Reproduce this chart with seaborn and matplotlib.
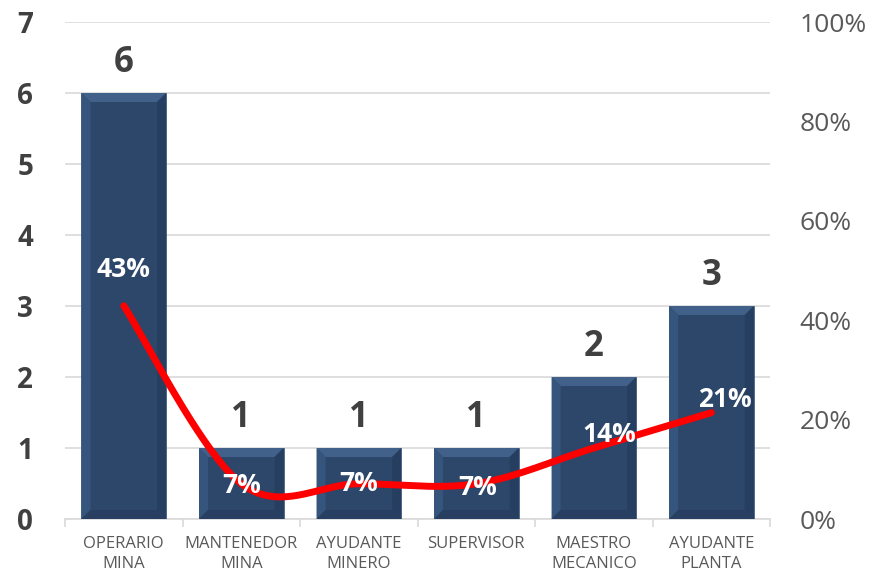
import numpy as np
import pandas as pd
import matplotlib
matplotlib.use('Agg')
import matplotlib.pyplot as plt
from matplotlib.patches import Polygon
import seaborn as sns

# data
categories = ['OPERARIO\nMINA', 'MANTENEDOR\nMINA', 'AYUDANTE\nMINERO',
              'SUPERVISOR', 'MAESTRO\nMECANICO', 'AYUDANTE\nPLANTA']
counts = [6, 1, 1, 1, 2, 3]
shares = [42.9, 7.1, 7.1, 7.1, 14.3, 21.4]
share_labels = ['43%', '7%', '7%', '7%', '14%', '21%']
left_ticks = [0, 1, 2, 3, 4, 5, 6, 7]
right_ticks = [0, 20, 40, 60, 80, 100]

# label nudges (pixels) for the percentage labels
pct_offsets = [(0, 36), (0, -2), (0, 0), (1, -4), (15, 13), (13, 13)]

sns.set_theme(style='white')
plt.rcParams['font.family'] = ['Open Sans', 'DejaVu Sans']

fig = plt.figure(figsize=(8.74, 5.73), dpi=100)
ax = fig.add_axes([0.0744, 0.0942, 0.8068, 0.8674])

df = pd.DataFrame({'cat': categories, 'n': counts})
sns.barplot(data=df, x='cat', y='n', ax=ax, color='#2C4769', width=0.72,
            edgecolor='#3A5880', linewidth=0.5, saturation=1, zorder=3)

ax.set_ylim(0, 7)
ax.set_xlim(-0.5, len(categories) - 0.5)
ax.set_yticks(left_ticks)
ax.grid(axis='y', color='#D9D9D9', linewidth=1.2, zorder=0)
ax.set_axisbelow(True)
for s in ['top', 'right', 'left']:
    ax.spines[s].set_visible(False)
ax.spines['bottom'].set_color('#D9D9D9')
ax.spines['bottom'].set_linewidth(1.2)
ax.set_xlabel('')
ax.set_ylabel('')
ax.tick_params(axis='y', length=0, pad=23, labelsize=20, labelcolor='#404040')
for t in ax.get_yticklabels():
    t.set_fontweight('bold')
ax.tick_params(axis='x', which='major', length=0, pad=12, labelsize=12,
               labelcolor='#595959')
for t in ax.get_xticklabels():
    t.set_linespacing(1.35)
ax.set_xticks(np.arange(-0.5, len(categories)), minor=True)
ax.tick_params(axis='x', which='minor', length=6, color='#D9D9D9', width=1.2,
               bottom=True)

# soft bevel on the bars
fig.canvas.draw()
bev = 9  # pixels
for p in ax.patches:
    x0, y0 = ax.transData.transform((p.get_x(), 0))
    x1, y1 = ax.transData.transform((p.get_x() + p.get_width(), p.get_height()))
    ix0, ix1, iy0, iy1 = x0 + bev, x1 - bev, y0 + bev, y1 - bev
    faces = [
        ([(x0, y1), (x1, y1), (ix1, iy1), (ix0, iy1)], '#41618A'),
        ([(x0, y0), (x0, y1), (ix0, iy1), (ix0, iy0)], '#36557C'),
        ([(x1, y0), (x1, y1), (ix1, iy1), (ix1, iy0)], '#263F60'),
        ([(x0, y0), (x1, y0), (ix1, iy0), (ix0, iy0)], '#283F61'),
    ]
    for pts, col in faces:
        ax.add_patch(Polygon(pts, closed=True, transform=None, facecolor=col,
                             edgecolor='none', zorder=3.5))

for i, c in enumerate(counts):
    ax.annotate(str(c), (i, c), xytext=(0, 21), textcoords='offset pixels',
                ha='center', va='baseline', fontsize=25, fontweight='bold',
                color='#404040')

ax2 = ax.twinx()
ax2.set_position(ax.get_position())
ax2.set_ylim(0, 100)
ax2.set_yticks(right_ticks)
ax2.set_yticklabels([f'{v}%' for v in right_ticks])
ax2.tick_params(axis='y', length=0, pad=21, labelsize=19, labelcolor='#595959')
for s in ax2.spines.values():
    s.set_visible(False)
ax2.grid(False)

# smooth line through the points (Excel-style bezier smoothing)
xs = np.arange(len(shares), dtype=float)
ys = np.array(shares, dtype=float)
px = np.concatenate([[xs[0]], xs, [xs[-1]]])
py = np.concatenate([[ys[0]], ys, [ys[-1]]])
cx, cy = [], []
t = np.linspace(0, 1, 40)
for k in range(1, len(px) - 2):
    p0 = np.array([px[k], py[k]])
    p3 = np.array([px[k + 1], py[k + 1]])
    p1 = p0 + (np.array([px[k + 1], py[k + 1]]) - np.array([px[k - 1], py[k - 1]])) / 6
    p2 = p3 - (np.array([px[k + 2], py[k + 2]]) - np.array([px[k], py[k]])) / 6
    b = (((1 - t) ** 3)[:, None] * p0 + (3 * (1 - t) ** 2 * t)[:, None] * p1
         + (3 * (1 - t) * t ** 2)[:, None] * p2 + (t ** 3)[:, None] * p3)
    cx.extend(b[:, 0])
    cy.extend(b[:, 1])
ax2.plot(cx, cy, color='#FF0000', linewidth=5, solid_capstyle='round', zorder=5)

for i, (v, lab) in enumerate(zip(shares, share_labels)):
    dx, dy = pct_offsets[i]
    ax2.annotate(lab, (i, v), xytext=(dx, dy), textcoords='offset pixels',
                 ha='center', va='center', fontsize=19, fontweight='bold',
                 color='white', zorder=6)

fig.savefig('out.png', dpi=100)
